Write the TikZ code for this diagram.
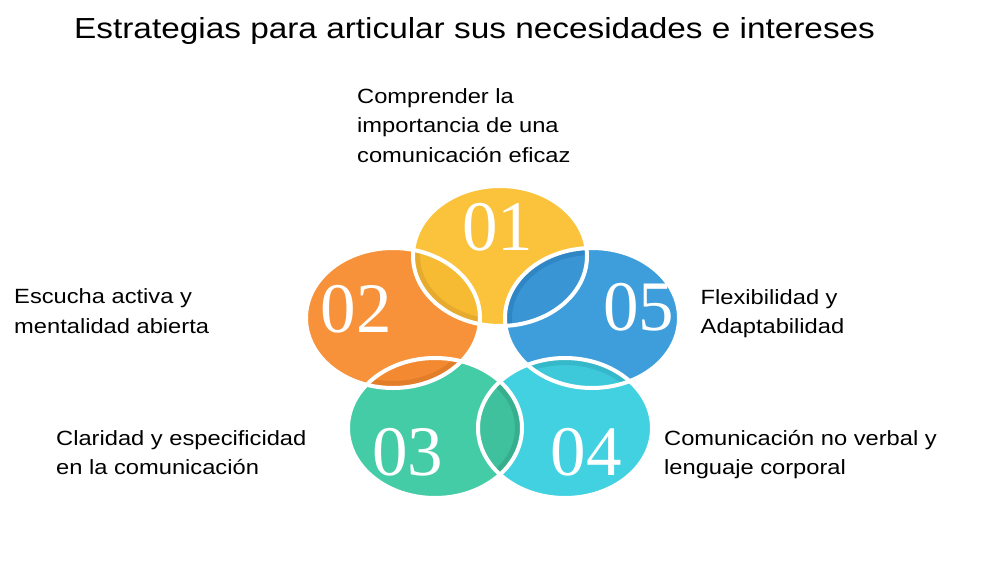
\documentclass[tikz,border=0pt]{standalone}
\usepackage{fontspec}
\setmainfont{Liberation Sans}[FakeStretch=1.15]
\newfontfamily\numfont{Liberation Serif}
\definecolor{cYel}{HTML}{FBC33B}
\definecolor{cYelL}{HTML}{F6BB33}
\definecolor{cYelS}{HTML}{E6AA2C}
\definecolor{cOra}{HTML}{F7923A}
\definecolor{cOraL}{HTML}{F38A32}
\definecolor{cOraS}{HTML}{E27D2A}
\definecolor{cBlu}{HTML}{3E9EDB}
\definecolor{cBluL}{HTML}{3A95D5}
\definecolor{cBluS}{HTML}{2F86C4}
\definecolor{cGre}{HTML}{44CCA6}
\definecolor{cGreL}{HTML}{3FC19E}
\definecolor{cGreS}{HTML}{37AF8E}
\definecolor{cCya}{HTML}{42D1E0}
\definecolor{cCyaL}{HTML}{3DC9DA}
\definecolor{cCyaS}{HTML}{34B8CA}
\begin{document}
\begin{tikzpicture}[x=1pt,y=-1pt,
  petal/.style={x radius=87pt,y radius=70pt},
  rim/.style={draw=white,line width=4pt},
  shade/.style={line width=14pt},
  num/.style={font=\numfont\fontsize{71}{71}\selectfont,text=white,inner sep=0pt},
  lbl/.style={font=\fontsize{20.6}{29.5}\selectfont,align=left,anchor=base west,inner sep=0pt,text=black},
  ttl/.style={font=\fontsize{29}{34}\selectfont,anchor=base west,inner sep=0pt,text=black}]
\useasboundingbox (0,0) rectangle (1000,562);
\fill[white] (0,0) rectangle (1000,562);
\coordinate (c1) at (500,256);
\coordinate (c2) at (393,318);
\coordinate (c5) at (592,318);
\coordinate (c3) at (435,428);
\coordinate (c4) at (565,428);
% base fills
\fill[cYel] (c1) ellipse [petal];
\fill[cOra] (c2) ellipse [petal];
\fill[cBlu] (c5) ellipse [petal];
\fill[cGre] (c3) ellipse [petal];
\fill[cCya] (c4) ellipse [petal];
% lenses
\begin{scope}
  \clip (c1) ellipse [petal]; \clip (c2) ellipse [petal];
  \fill[cYelL] (c1) ellipse [petal];
  \draw[cYelS,shade] (c1) ellipse [petal];
\end{scope}
\begin{scope}
  \clip (c1) ellipse [petal]; \clip (c5) ellipse [petal];
  \fill[cBluL] (c5) ellipse [petal];
  \draw[cBluS,shade] (c5) ellipse [petal];
\end{scope}
\begin{scope}
  \clip (c5) ellipse [petal]; \clip (c4) ellipse [petal];
  \fill[cCyaL] (c4) ellipse [petal];
  \draw[cCyaS,shade] (c4) ellipse [petal];
\end{scope}
\begin{scope}
  \clip (c4) ellipse [petal]; \clip (c3) ellipse [petal];
  \fill[cGreL] (c3) ellipse [petal];
  \draw[cGreS,shade] (c3) ellipse [petal];
\end{scope}
\begin{scope}
  \clip (c3) ellipse [petal]; \clip (c2) ellipse [petal];
  \fill[cOraL] (c2) ellipse [petal];
  \draw[cOraS,shade] (c2) ellipse [petal];
\end{scope}
% white rims
\foreach \c in {c1,c2,c3,c4,c5} \draw[rim] (\c) ellipse [petal];
% numbers
\node[num] (n1) at (497.5,227.5) {01};
\node[num] (n2) at (356,309) {02};
\node[num] (n5) at (638.5,307) {05};
\node[num] (n3) at (407.5,452) {03};
\node[num] (n4) at (586,452) {04};
% title
\node[ttl] (title) at (74,38) {Estrategias para articular sus necesidades e intereses};
% labels (anchor = baseline of last line)
\node[lbl] (l1) at (357,162) {Comprender la\\importancia de una\\comunicación eficaz};
\node[lbl] (l2) at (14,333) {Escucha activa y\\mentalidad abierta};
\node[lbl] (l3) at (56,474.5) {Claridad y especificidad\\en la comunicación};
\node[lbl] (l5) at (700.5,333.5) {Flexibilidad y\\Adaptabilidad};
\node[lbl] (l4) at (664,474.5) {Comunicación no verbal y\\lenguaje corporal};
\end{tikzpicture}
\end{document}
